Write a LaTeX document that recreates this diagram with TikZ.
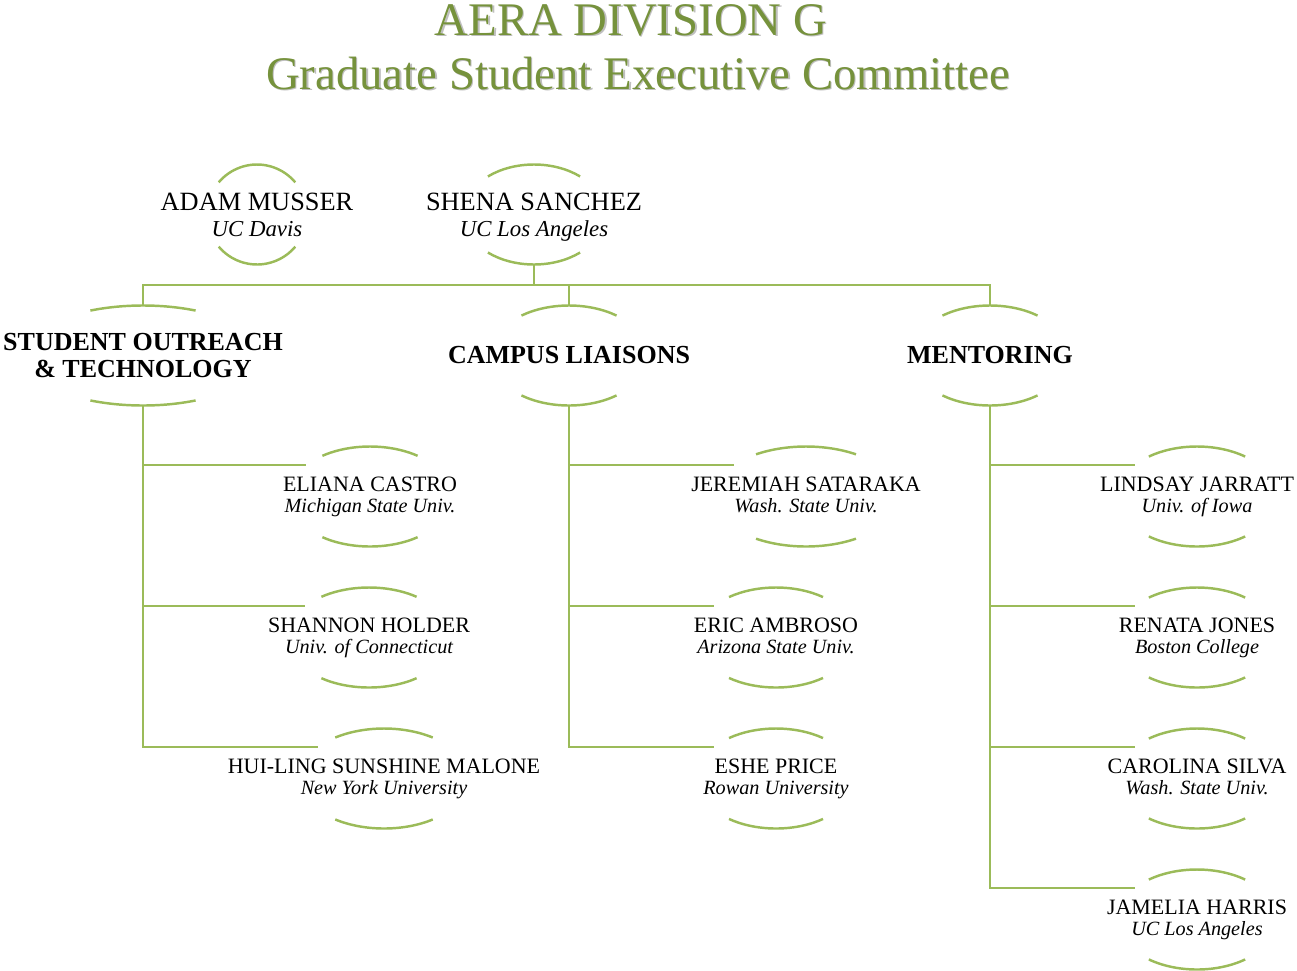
\documentclass[tikz,border=0pt]{standalone}
\usepackage{fontspec}
\setmainfont{Liberation Serif}
\definecolor{leaf}{HTML}{9BBB59}
\definecolor{titlegreen}{HTML}{76923C}
\newcommand{\school}[2][11.5]{{\itshape\fontsize{#1}{12}\selectfont #2}}
% top and bottom arcs of an invisible ellipse round a node
\newcommand{\lens}[3]{%
  \draw[lensline] ([shift={(90-#3:#2 and 50)}]#1.center) arc[start angle=90-#3, end angle=90+#3, x radius=#2, y radius=50];
  \draw[lensline] ([shift={(270-#3:#2 and 50)}]#1.center) arc[start angle=270-#3, end angle=270+#3, x radius=#2, y radius=50];
  \coordinate (#1-top) at ([shift={(0,-50)}]#1.center);
  \coordinate (#1-bot) at ([shift={(0,50)}]#1.center);
  \coordinate (#1-in) at ([shift={(219:#2 and 50)}]#1.center);}
\begin{document}
\begin{tikzpicture}[x=0.02cm, y=-0.02cm,
  link/.style={draw=leaf, line width=1.4pt},
  lensline/.style={leaf, line width=1.4pt},
  heading/.style={anchor=base, text=titlegreen, font=\fontsize{26.6}{30}\selectfont},
  shade/.style={anchor=base, text=black!25, font=\fontsize{26.6}{30}\selectfont},
  head/.style={align=center, text depth=0pt, font=\fontsize{15}{14.8}\selectfont},
  group/.style={align=center, font=\bfseries\fontsize{14.8}{15.4}\selectfont},
  member/.style={align=center, text depth=2.5pt, font=\fontsize{12.5}{12}\selectfont}]
	\useasboundingbox (0,0) rectangle (1297,970);
	% title
	\node[shade] (t1s) at (632.5,36.5) {AERA DIVISION G};
	\node[shade] (t2s) at (639.5,90.5) {Graduate Student Executive Committee};
	\node[heading] (t1) at (631,35) {AERA DIVISION G};
	\node[heading] (t2) at (638,89) {Graduate Student Executive Committee};
	% people
	\node[head] (adam) at (257,214.5) {ADAM MUSSER\\\school[13]{UC Davis}};
	\node[head] (shena) at (534,214.5) {SHENA SANCHEZ\\\school[13]{UC Los Angeles}};
	\node[group] (sot) at (143,355.5) {STUDENT OUTREACH\\\& TECHNOLOGY};
	\node[group] (cl) at (569,355.5) {CAMPUS LIAISONS};
	\node[group] (men) at (990,355.5) {MENTORING};
	\node[member] (eliana) at (370,496.5) {ELIANA CASTRO\\\school{Michigan State Univ.}};
	\node[member] (shannon) at (369,637.5) {SHANNON HOLDER\\\school{Univ. of Connecticut}};
	\node[member] (huiling) at (384,778.5) {HUI-LING SUNSHINE MALONE\\\school{New York University}};
	\node[member] (jeremiah) at (806,496.5) {JEREMIAH SATARAKA\\\school{Wash. State Univ.}};
	\node[member] (eric) at (776,637.5) {ERIC AMBROSO\\\school{Arizona State Univ.}};
	\node[member] (eshe) at (776,778.5) {ESHE PRICE\\\school{Rowan University}};
	\node[member] (lindsay) at (1197,496.5) {LINDSAY JARRATT\\\school{Univ. of Iowa}};
	\node[member] (renata) at (1197,637.5) {RENATA JONES\\\school{Boston College}};
	\node[member] (carolina) at (1197,778.5) {CAROLINA SILVA\\\school{Wash. State Univ.}};
	\node[member] (jamelia) at (1197,919.5) {JAMELIA HARRIS\\\school{UC Los Angeles}};
	% arcs
	\lens{adam}{50}{50}
	\lens{shena}{71}{40.5}
	\lens{sot}{120}{26}
	\lens{cl}{79}{37}
	\lens{men}{79}{37}
	\lens{eliana}{82}{35.5}
	\lens{shannon}{82}{35.5}
	\lens{huiling}{85}{35}
	\lens{jeremiah}{93}{32.5}
	\lens{eric}{80}{36}
	\lens{eshe}{80}{36}
	\foreach \n in {lindsay,renata,carolina,jamelia}{\lens{\n}{80}{37}}
	% connectors
	\coordinate (bus) at (534,285);
	\draw[link] (shena-bot) -- (bus);
	\foreach \g in {sot,cl,men} \draw[link] (bus) -| (\g-top);
	\foreach \m in {eliana,shannon,huiling} \draw[link] (sot-bot) |- (\m-in);
	\foreach \m in {jeremiah,eric,eshe} \draw[link] (cl-bot) |- (\m-in);
	\foreach \m in {lindsay,renata,carolina,jamelia} \draw[link] (men-bot) |- (\m-in);
\end{tikzpicture}
\end{document}
